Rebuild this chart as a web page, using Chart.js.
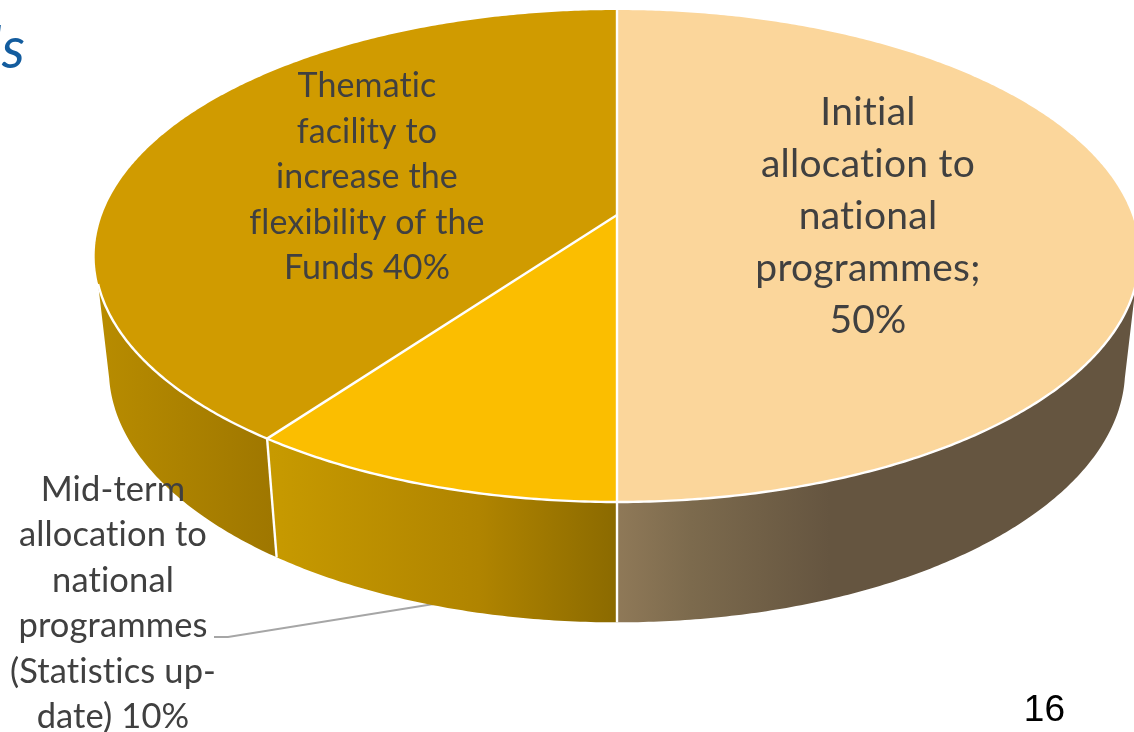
<!DOCTYPE html>
<html>
<head>
<meta charset="utf-8">
<style>html,body{margin:0;padding:0;background:#fff;overflow:hidden}canvas{display:block}</style>
<script src="https://cdn.jsdelivr.net/npm/chart.js@4/dist/chart.umd.min.js"></script>
</head>
<body>
<canvas id="c" width="1134" height="732"></canvas>
<script>
const categories = [
  "Initial allocation to national programmes",
  "Mid-term allocation to national programmes (Statistics update)",
  "Thematic facility to increase the flexibility of the Funds"
];
const shares = [50, 10, 40];
const sliceColors = ["#FBD69B", "#FBBE00", "#D09B00"];
const initialLabel = ["Initial", "allocation to", "national", "programmes;", "50%"];
const midTermLabel = ["Mid-term", "allocation to", "national", "programmes", "(Statistics up-", "date) 10%"];
const thematicLabel = ["Thematic", "facility to", "increase the", "flexibility of the", "Funds 40%"];

const DEG = Math.PI / 180;
const persp = -0.1667;
const topFace = { cx: 617, r: 515, a: 203.3, b: 215 };
const botFace = { cx: 617, r: 501, a: 191, b: 327.6 };
const project = (f, ang) => {
  const u = Math.cos(ang), v = Math.sin(ang), d = 1 + persp * v;
  return [f.cx + f.r * u / d, (f.a * v + f.b) / d];
};
const rimGradients = [
  { x0: 617, x1: 830, stops: [[0, "#8F7958"], [0.35, "#7C6A4D"], [1, "#655540"]] },
  { x0: 272, x1: 617, stops: [[0, "#C79A00"], [0.6, "#B08400"], [1, "#8B6A00"]] },
  { x0: 97, x1: 272, stops: [[0, "#B88C00"], [1, "#9F7700"]] }
];
function arcPoints(f, from, to, rev) {
  const n = Math.max(2, Math.ceil(Math.abs(to - from) / (0.5 * DEG)));
  const pts = [];
  for (let i = 0; i <= n; i++) pts.push(project(f, from + (to - from) * i / n));
  return rev ? pts.reverse() : pts;
}
function trace(ctx, pts, start) {
  pts.forEach((p, i) => (i === 0 && start) ? ctx.moveTo(p[0], p[1]) : ctx.lineTo(p[0], p[1]));
}
const pie3d = {
  id: "pie3d",
  beforeDatasetsDraw(chart) {
    const ctx = chart.ctx;
    const arcs = chart.getDatasetMeta(0).data;
    const colors = chart.data.datasets[0].backgroundColor;
    ctx.save();
    // leader line
    ctx.strokeStyle = "#A6A6A6"; ctx.lineWidth = 1.8;
    ctx.beginPath(); ctx.moveTo(214, 637); ctx.lineTo(228, 637); ctx.lineTo(440, 603); ctx.stroke();
    // rim
    arcs.forEach((el, i) => {
      const t0 = Math.max(el.startAngle, 16 * DEG), t1 = Math.min(el.endAngle, 164 * DEG);
      const b0 = Math.max(el.startAngle, 11.5 * DEG), b1 = Math.min(el.endAngle, 168.5 * DEG);
      const g = rimGradients[i];
      const grad = ctx.createLinearGradient(g.x0, 0, g.x1, 0);
      g.stops.forEach(s => grad.addColorStop(s[0], s[1]));
      ctx.fillStyle = grad;
      ctx.beginPath();
      trace(ctx, arcPoints(topFace, t0, t1), true);
      trace(ctx, arcPoints(botFace, b0, b1, true), false);
      ctx.closePath(); ctx.fill();
    });
    // rim dividers
    ctx.strokeStyle = "#fff"; ctx.lineWidth = 2.4;
    arcs.forEach(el => {
      const a = el.endAngle;
      if (Math.sin(a) > 0.3) {
        const p = project(topFace, a), q = project(botFace, a);
        ctx.beginPath(); ctx.moveTo(p[0], p[1]); ctx.lineTo(q[0], q[1]); ctx.stroke();
      }
    });
    // top faces
    arcs.forEach((el, i) => {
      ctx.fillStyle = colors[i];
      ctx.beginPath();
      ctx.moveTo(topFace.cx, topFace.b);
      trace(ctx, arcPoints(topFace, el.startAngle, el.endAngle), false);
      ctx.closePath(); ctx.fill();
    });
    // white seams
    ctx.strokeStyle = "#fff"; ctx.lineWidth = 2.4; ctx.lineJoin = "round";
    arcs.forEach(el => {
      const p = project(topFace, el.startAngle);
      ctx.beginPath(); ctx.moveTo(topFace.cx, topFace.b); ctx.lineTo(p[0], p[1]); ctx.stroke();
    });
    ctx.beginPath();
    trace(ctx, arcPoints(topFace, 16 * DEG, 164 * DEG), true);
    ctx.stroke();
    ctx.restore();
    return false;
  },
  afterDraw(chart) {
    const ctx = chart.ctx;
    ctx.save();
    ctx.textAlign = "center"; ctx.textBaseline = "alphabetic";
    ctx.fillStyle = "#404040";
    const block = (lines, x, y, lh, size, sp) => {
      ctx.font = size + "px Lato";
      ctx.letterSpacing = sp + "px";
      lines.forEach((l, i) => ctx.fillText(l, x, y + i * lh));
    };
    block(initialLabel, 868, 125, 52, 39, 0.25);
    block(thematicLabel, 367, 97, 45.5, 34, 0.12);
    block(midTermLabel, 113, 501, 45.4, 34.5, 0.12);
    ctx.letterSpacing = "0.01px";
    ctx.textAlign = "right";
    ctx.fillStyle = "#135C9E"; ctx.font = "italic 58px Lato";
    ctx.fillText("ls", 25, 68);
    ctx.fillStyle = "#000"; ctx.font = "37px 'Liberation Sans'";
    ctx.fillText("16", 1065, 721);
    ctx.restore();
  }
};
new Chart(document.getElementById("c"), {
  type: "pie",
  data: { labels: categories, datasets: [{ data: shares, backgroundColor: sliceColors }] },
  options: {
    responsive: false, animation: false, devicePixelRatio: 1,
    plugins: { legend: { display: false }, tooltip: { enabled: false } }
  },
  plugins: [pie3d]
});
</script>
</body>
</html>
